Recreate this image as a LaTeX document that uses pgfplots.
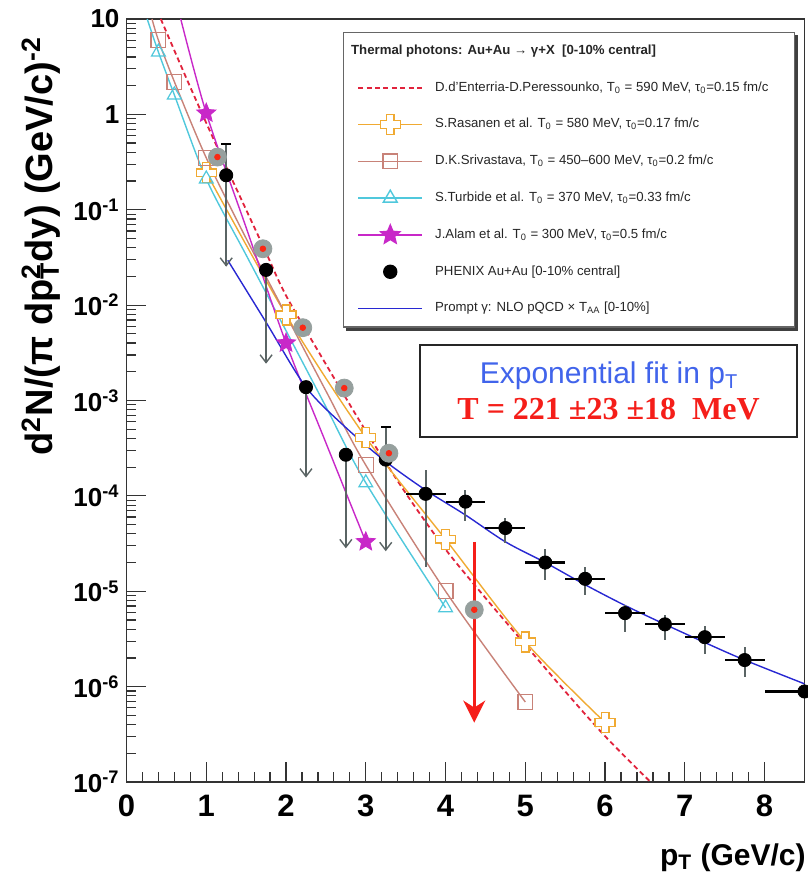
\documentclass[border=0pt]{standalone}
\usepackage{fontspec}
\setmainfont{Liberation Sans}
\newfontfamily\timesfont{Liberation Serif}
\usepackage{pgfplots}
\pgfplotsset{compat=1.18}
\usepackage{pgfplotstable}
\usetikzlibrary{arrows.meta}

\definecolor{cRed}{RGB}{225,35,60}
\definecolor{cOrange}{RGB}{240,170,50}
\definecolor{cBrown}{RGB}{200,130,120}
\definecolor{cCyan}{RGB}{80,200,220}
\definecolor{cMag}{RGB}{200,40,200}
\definecolor{cBlue}{RGB}{40,40,210}
\definecolor{cGray}{RGB}{150,160,158}
\definecolor{cDot}{RGB}{250,40,20}
\definecolor{cErr}{RGB}{90,100,100}
\definecolor{txtBlue}{RGB}{65,100,235}
\definecolor{txtRed}{RGB}{245,30,25}

\pgfdeclareplotmark{ocross}{%
 \pgfpathmoveto{\pgfqpoint{-0.38\pgfplotmarksize}{\pgfplotmarksize}}%
 \pgfpathlineto{\pgfqpoint{0.38\pgfplotmarksize}{\pgfplotmarksize}}%
 \pgfpathlineto{\pgfqpoint{0.38\pgfplotmarksize}{0.38\pgfplotmarksize}}%
 \pgfpathlineto{\pgfqpoint{\pgfplotmarksize}{0.38\pgfplotmarksize}}%
 \pgfpathlineto{\pgfqpoint{\pgfplotmarksize}{-0.38\pgfplotmarksize}}%
 \pgfpathlineto{\pgfqpoint{0.38\pgfplotmarksize}{-0.38\pgfplotmarksize}}%
 \pgfpathlineto{\pgfqpoint{0.38\pgfplotmarksize}{-\pgfplotmarksize}}%
 \pgfpathlineto{\pgfqpoint{-0.38\pgfplotmarksize}{-\pgfplotmarksize}}%
 \pgfpathlineto{\pgfqpoint{-0.38\pgfplotmarksize}{-0.38\pgfplotmarksize}}%
 \pgfpathlineto{\pgfqpoint{-\pgfplotmarksize}{-0.38\pgfplotmarksize}}%
 \pgfpathlineto{\pgfqpoint{-\pgfplotmarksize}{0.38\pgfplotmarksize}}%
 \pgfpathlineto{\pgfqpoint{-0.38\pgfplotmarksize}{0.38\pgfplotmarksize}}%
 \pgfpathclose\pgfusepathqfillstroke}
\pgfdeclareplotmark{fstar}{%
 \pgfpathmoveto{\pgfqpoint{0pt}{\pgfplotmarksize}}%
 \pgfpathlineto{\pgfqpoint{-0.265\pgfplotmarksize}{0.364\pgfplotmarksize}}%
 \pgfpathlineto{\pgfqpoint{-0.951\pgfplotmarksize}{0.309\pgfplotmarksize}}%
 \pgfpathlineto{\pgfqpoint{-0.428\pgfplotmarksize}{-0.139\pgfplotmarksize}}%
 \pgfpathlineto{\pgfqpoint{-0.588\pgfplotmarksize}{-0.809\pgfplotmarksize}}%
 \pgfpathlineto{\pgfqpoint{0pt}{-0.45\pgfplotmarksize}}%
 \pgfpathlineto{\pgfqpoint{0.588\pgfplotmarksize}{-0.809\pgfplotmarksize}}%
 \pgfpathlineto{\pgfqpoint{0.428\pgfplotmarksize}{-0.139\pgfplotmarksize}}%
 \pgfpathlineto{\pgfqpoint{0.951\pgfplotmarksize}{0.309\pgfplotmarksize}}%
 \pgfpathlineto{\pgfqpoint{0.265\pgfplotmarksize}{0.364\pgfplotmarksize}}%
 \pgfpathclose\pgfusepathqfillstroke}
\pgfdeclareplotmark{varrow}{%
 \pgfpathmoveto{\pgfqpoint{-\pgfplotmarksize}{1.3\pgfplotmarksize}}%
 \pgfpathlineto{\pgfqpoint{0pt}{0pt}}%
 \pgfpathlineto{\pgfqpoint{\pgfplotmarksize}{1.3\pgfplotmarksize}}%
 \pgfusepathqstroke}

\pgfplotstableread{
x y ex eyp eym
3.75 1.05e-4 0.25 8.1e-5 8.7e-5
4.25 8.7e-5 0.25 2.8e-5 3.3e-5
4.75 4.6e-5 0.25 1.3e-5 1.4e-5
5.25 2.0e-5 0.25 0.8e-5 0.7e-5
5.75 1.35e-5 0.25 4.5e-6 4.3e-6
6.25 5.9e-6 0.25 1.3e-6 2.2e-6
6.75 4.5e-6 0.25 1.1e-6 1.4e-6
7.25 3.3e-6 0.25 1.0e-6 1.1e-6
7.75 1.9e-6 0.25 0.7e-6 0.64e-6
8.5 8.9e-7 0.5 1.0e-7 1.0e-7
}\phenix

\pgfplotstableread{
x y tip eyp eym
1.25 0.23 0.026 0.26 0.204
1.75 0.0234 2.5e-3 0 0.0209
2.25 1.38e-3 1.6e-4 0 1.22e-3
2.75 2.7e-4 2.9e-5 0 2.41e-4
3.25 2.4e-4 2.7e-5 2.9e-4 2.13e-4
}\limits

\pgfplotstableread{
x y
1.14 0.357
1.71 0.039
2.21 5.8e-3
2.73 1.35e-3
3.29 2.8e-4
4.36 6.4e-6
}\grayc

\begin{document}
\begin{tikzpicture}
\begin{axis}[
 scale only axis, width=339pt, height=381.5pt,
 ymode=log, xmin=0, xmax=8.5, ymin=1e-7, ymax=10,
 xtick={0,1,2,3,4,5,6,7,8},
 xticklabels={0,1,2,3,4,5,6,7,8},
 minor x tick num=4,
 ytick={1e-7,1e-6,1e-5,1e-4,1e-3,1e-2,1e-1,1,10},
 yticklabels={10\textsuperscript{-7},10\textsuperscript{-6},10\textsuperscript{-5},10\textsuperscript{-4},10\textsuperscript{-3},10\textsuperscript{-2},10\textsuperscript{-1},1,10},
 tick align=inside, xtick pos=bottom, ytick pos=left,
 major tick length=10pt, minor tick length=5pt,
 every tick/.append style={black!80, line width=0.6pt},
 axis line style={black!80, line width=0.7pt},
 xticklabel style={font=\fontsize{15.5}{15.5}\selectfont\bfseries, yshift=-3pt},
 yticklabel style={font=\fontsize{13}{13}\selectfont\bfseries},
 xlabel={p\textsubscript{T} (GeV/c)},
 ylabel={d\textsuperscript{2}N/(π dp\makebox[0pt][l]{\textsuperscript{2}}\textsubscript{T}dy) (GeV/c)\textsuperscript{-2}},
 xlabel style={at={(rel axis cs:1.012,-0.1088)}, anchor=base east, font=\fontsize{15}{15}\selectfont\bfseries},
 ylabel style={at={(rel axis cs:-0.109,0.9856)}, anchor=base east, font=\fontsize{19}{19}\selectfont\bfseries},
 legend image code/.code={\draw[mark repeat=2,mark phase=2,#1] plot coordinates {(0pt,0pt) (16pt,0pt) (32pt,0pt)};},
 legend cell align=left,
 legend style={name=leg, at={(rel axis cs:0.986,0.983)}, anchor=north east,
   draw=black!60, line width=0.6pt, fill=white,
   font=\fontsize{6.6}{7.5}\selectfont, text=black!85,
   inner xsep=7pt, inner ysep=0pt, row sep=0pt,
   nodes={minimum height=18.4pt, inner ysep=0pt, inner xsep=6pt}},
]
\coordinate (O) at (rel axis cs:0,0);
\coordinate (TR) at (rel axis cs:1,1);

% theory curves
\addplot[cRed, line width=0.9pt, dash pattern=on 2.5pt off 1.7pt, smooth, forget plot] coordinates {
(0.43,10) (0.75,2.40) (1.0,0.813) (1.25,0.282) (1.5,0.1) (1.75,0.0355) (2.0,0.0126) (2.5,2.40e-3) (3.0,4.79e-4) (3.5,1.07e-4) (4.0,2.75e-5) (4.5,8.51e-6) (5.0,2.75e-6) (5.5,8.91e-7) (6.0,3.02e-7) (6.57,1.0e-7)};
\addplot[cOrange, line width=0.7pt, smooth, forget plot] coordinates {
(1,0.245) (2,7.9e-3) (3,4.1e-4) (4,3.5e-5) (5,2.95e-6) (6,4.2e-7)};
\addplot[cBrown, line width=0.7pt, smooth, forget plot] coordinates {
(0.32,10) (0.4,6.0) (0.6,2.2) (1.0,0.35) (1.5,0.050) (2.0,7.9e-3) (2.5,1.26e-3) (3.0,2.1e-4) (4.0,1.0e-5) (5.0,6.9e-7)};
\addplot[cCyan, line width=0.7pt, smooth, forget plot] coordinates {
(0.26,10) (0.4,4.5) (0.6,1.6) (1.0,0.21) (1.5,0.0335) (2.0,5.4e-3) (2.5,8.6e-4) (3.0,1.37e-4) (4.0,6.7e-6)};
\addplot[cMag, line width=0.7pt, smooth, forget plot] coordinates {
(0.68,10) (1.0,1.03) (1.5,0.065) (2.0,4.0e-3) (2.5,3.6e-4) (3.0,3.3e-5)};
\addplot[cBlue, line width=0.7pt, smooth, forget plot] coordinates {
(1.27,0.0295) (1.75,6.6e-3) (2.25,1.38e-3) (2.75,5.2e-4) (3.25,2.29e-4) (3.75,1.15e-4) (4.25,6.3e-5) (4.75,3.3e-5) (5.25,2.0e-5) (5.75,1.17e-5) (6.25,7.1e-6) (6.75,4.5e-6) (7.25,2.9e-6) (7.75,1.9e-6) (8.5,1.07e-6)};

% theory markers
\addplot[only marks, cOrange, mark=ocross, mark size=5pt, mark options={fill=white, line width=0.7pt}, forget plot] coordinates {
(1,0.245) (2,7.9e-3) (3,4.1e-4) (4,3.5e-5) (5,2.95e-6) (6,4.2e-7)};
\addplot[only marks, cBrown, mark=square, mark size=3.7pt, mark options={line width=0.6pt}, forget plot] coordinates {
(0.4,6.0) (0.6,2.2) (1.0,0.35) (3.0,2.1e-4) (4.0,1.0e-5) (5.0,6.9e-7)};
\addplot[only marks, cCyan, mark=triangle, mark size=4pt, mark options={line width=0.6pt}, forget plot] coordinates {
(0.4,4.5) (0.6,1.6) (1.0,0.21) (3.0,1.37e-4) (4.0,6.7e-6)};
\addplot[only marks, cMag, mark=fstar, mark size=5pt, mark options={fill=cMag}, forget plot] coordinates {
(1.0,1.03) (2.0,4.0e-3) (3.0,3.3e-5)};

% PHENIX upper limits
\addplot[only marks, mark=none, forget plot,
 error bars/.cd, y dir=both, y explicit, error mark=none,
 error bar style={cErr, line width=0.9pt}]
 table[x=x, y=y, y error plus=eyp, y error minus=eym] {\limits};
\addplot[only marks, mark=varrow, mark size=3pt, cErr, mark options={line width=0.7pt}, forget plot]
 table[x=x, y=tip] {\limits};
\addplot[only marks, mark=-, mark size=2.5pt, black, mark options={line width=0.8pt}, forget plot] coordinates {(1.25,0.49) (3.25,5.3e-4)};

% PHENIX points
\addplot[only marks, mark=none, forget plot,
 error bars/.cd, y dir=both, y explicit, error mark=none,
 error bar style={cErr, line width=1pt}]
 table[x=x, y=y, y error plus=eyp, y error minus=eym] {\phenix};
\addplot[only marks, mark=none, forget plot,
 error bars/.cd, x dir=both, x explicit, error mark=none,
 error bar style={black, line width=1.1pt}]
 table[x=x, y=y, x error=ex] {\phenix};
\addplot[only marks, mark=*, mark size=3.3pt, black, forget plot] table[x=x, y=y] {\phenix};
\addplot[only marks, mark=*, mark size=3.3pt, black, forget plot] table[x=x, y=y] {\limits};

% gray circles
\addplot[only marks, mark=*, mark size=4.5pt, cGray, forget plot] table[x=x, y=y] {\grayc};
\addplot[only marks, mark=*, mark size=1.4pt, cDot, forget plot] table[x=x, y=y] {\grayc};

% red arrow
\addplot[txtRed, line width=1.3pt, -{Stealth[length=11pt,width=11pt,inset=3.5pt]}, forget plot] coordinates {(4.36,3.3e-5) (4.36,4.2e-7)};

% legend
\addlegendimage{empty legend}
\addlegendentry{\hspace*{-42pt}\textbf{Thermal photons: Au+Au → γ+X\ \ [0-10\% central]}}
\addlegendimage{cRed, line width=0.9pt, dash pattern=on 2.5pt off 1.7pt}
\addlegendentry{D.d'Enterria-D.Peressounko, T\textsubscript{0} = 590 MeV, τ\textsubscript{0}=0.15 fm/c}
\addlegendimage{cOrange, line width=0.7pt, mark=ocross, mark size=5pt, mark options={fill=white}}
\addlegendentry{S.Rasanen et al. T\textsubscript{0} = 580 MeV, τ\textsubscript{0}=0.17 fm/c}
\addlegendimage{cBrown, line width=0.7pt, mark=square, mark size=3.7pt}
\addlegendentry{D.K.Srivastava, T\textsubscript{0} = 450–600 MeV, τ\textsubscript{0}=0.2 fm/c}
\addlegendimage{cCyan, line width=0.7pt, mark=triangle, mark size=4pt}
\addlegendentry{S.Turbide et al. T\textsubscript{0} = 370 MeV, τ\textsubscript{0}=0.33 fm/c}
\addlegendimage{cMag, line width=0.7pt, mark=fstar, mark size=5pt, mark options={fill=cMag}}
\addlegendentry{J.Alam et al. T\textsubscript{0} = 300 MeV, τ\textsubscript{0}=0.5 fm/c}
\addlegendimage{only marks, black, mark=*, mark size=3.3pt}
\addlegendentry{PHENIX Au+Au [0-10\% central]}
\addlegendimage{cBlue, line width=0.8pt}
\addlegendentry{Prompt γ: NLO pQCD × T\textsubscript{AA} [0-10\%]}

\node[draw=black!85, line width=0.9pt, fill=white, minimum width=188.5pt, minimum height=46pt, align=center, inner sep=0pt]
 at (rel axis cs:0.711,0.5125)
 {{\color{txtBlue}\fontsize{15}{17}\selectfont Exponential fit in p\raisebox{-0.3ex}{\fontsize{10}{10}\selectfont T}}\\[3pt]
  {\color{txtRed}\timesfont\bfseries\fontsize{16}{17}\selectfont T = 221 ±23 ±18\ \ MeV}};
\end{axis}
\fill[black!75] ([xshift=1.5pt]leg.south west) rectangle ([shift={(1.5pt,-1.5pt)}]leg.south east);
\fill[black!75] ([yshift=-1.5pt]leg.north east) rectangle ([xshift=1.5pt]leg.south east);
\pgfresetboundingbox
\path ([shift={(-63.25pt,-50.5pt)}]O) rectangle ([shift={(1.5pt,9.5pt)}]TR);
\end{tikzpicture}
\end{document}
